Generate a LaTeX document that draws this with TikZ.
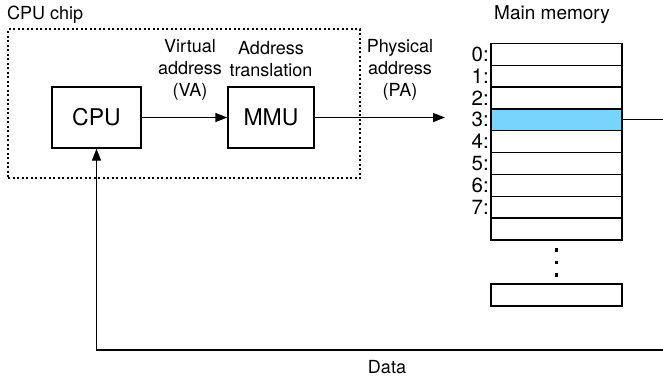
\documentclass[tikz,border=0pt]{standalone}
\usepackage{fontspec}
\setmainfont{TeX Gyre Heros}
\usetikzlibrary{arrows.meta}
\definecolor{cellblue}{HTML}{77D4FC}
\begin{document}
\begin{tikzpicture}[x=1pt,y=-1pt,
  box/.style={draw,line width=1.3pt,minimum width=89pt,minimum height=61pt,inner sep=0pt,font=\fontsize{23}{26}\selectfont},
  cell/.style={draw,line width=1.3pt,minimum width=131pt,minimum height=21.85pt,inner sep=0pt,anchor=center},
  lbl/.style={font=\fontsize{18}{22}\selectfont,align=center,inner sep=0pt},
  idx/.style={font=\fontsize{20.5}{22}\selectfont,anchor=east,inner sep=0pt},
  conn/.style={line width=1.3pt},
  arr/.style={conn,-{Triangle[length=12pt,width=9pt]}}]
\useasboundingbox (0,0) rectangle (663,376);
\clip (0,0) rectangle (663,376);
% CPU chip
\node[lbl,anchor=west] (chiplbl) at (7,15) {CPU chip};
\node[draw,line width=1.1pt,dash pattern=on 2pt off 2.5pt,minimum width=352pt,minimum height=149pt,inner sep=0pt] (chip) at (184,103.5) {};
\node[box] (cpu) at (96.5,117.5) {CPU};
\node[box,minimum width=86pt] (mmu) at (271,117.5) {MMU};
\node[lbl] (va) at (190,70) {Virtual\\address\\(VA)};
\node[lbl] (at) at (271,59) {Address\\translation};
\node[lbl] (pa) at (400,70) {Physical\\address\\(PA)};
% memory
\node[lbl,font=\fontsize{19}{22}\selectfont] (mainmem) at (552,15) {Main memory};
\foreach \i in {0,...,8}{
  \ifnum\i=3
    \node[cell,fill=cellblue] (r\i) at (556.5,{43.3+21.85*(\i+0.5)}) {};
  \else
    \node[cell] (r\i) at (556.5,{43.3+21.85*(\i+0.5)}) {};
  \fi
}
\foreach \i in {0,...,7}{
  \node[idx] (l\i) at (489,{43.3+21.85*(\i+0.5)}) {\i:};
}
\node[cell] (rlast) at (556.5,295) {};
\foreach \k/\yy in {1/250,2/262.5,3/275}{
  \fill (556.5,\yy) +(-1.9,-1.9) rectangle +(1.9,1.9);
}
\coordinate (memin) at (445,117.5);
\coordinate (cr1) at (690,{43.3+21.85*3.5});
\coordinate (cr2) at (690,350);
\node[lbl] (data) at (387,367) {Data};
% connectors
\draw[arr] (cpu.east) -- (mmu.west);
\draw[arr] (mmu.east) -- (memin);
\draw[arr] (r3.east) -- (cr1) -- (cr2) -| (cpu.south);
\end{tikzpicture}
\end{document}
